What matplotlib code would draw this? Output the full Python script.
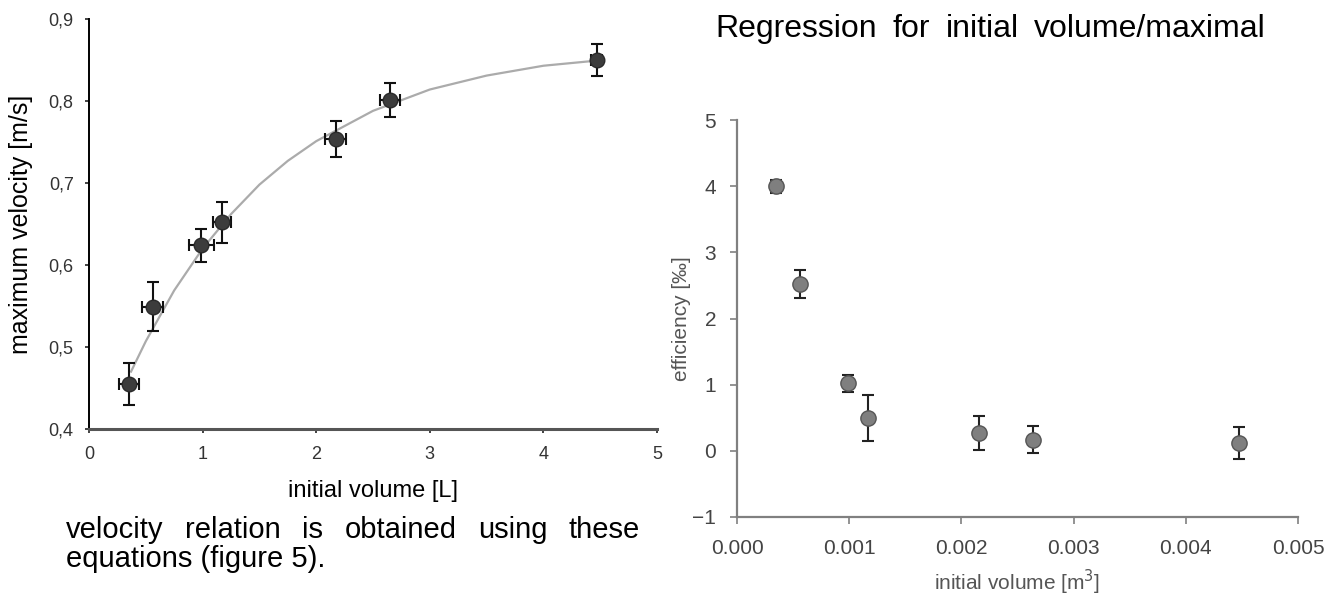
import matplotlib
matplotlib.use("Agg")
import matplotlib.pyplot as plt
from matplotlib.ticker import FuncFormatter

plt.rcParams["font.family"] = ["Liberation Sans", "DejaVu Sans"]

# left chart: maximum velocity vs initial volume [L]
vol_l = [0.35, 0.56, 0.99, 1.17, 2.17, 2.65, 4.47]
vmax = [0.455, 0.549, 0.624, 0.652, 0.754, 0.801, 0.850]
vmax_err = [0.026, 0.030, 0.020, 0.025, 0.022, 0.021, 0.020]
vol_err = [0.09, 0.09, 0.11, 0.08, 0.09, 0.09, 0.05]
# regression curve
fit_x = [0.37, 0.5, 0.75, 1.0, 1.25, 1.5, 1.75, 2.0, 2.5, 3.0, 3.5, 4.0, 4.45]
fit_y = [0.470, 0.507, 0.569, 0.620, 0.662, 0.698, 0.727, 0.751, 0.788, 0.814, 0.831, 0.843, 0.849]

# right chart: efficiency vs initial volume [m3]
vol_m3 = [0.00035, 0.00056, 0.00099, 0.00117, 0.00216, 0.00264, 0.00447]
eff = [4.0, 2.52, 1.02, 0.50, 0.27, 0.17, 0.12]
eff_err = [0.10, 0.21, 0.13, 0.35, 0.26, 0.21, 0.24]

W, H = 1331, 604
fig = plt.figure(figsize=(W / 100, H / 100), dpi=100)


def justified(words, x0, x1, y, size):
    # words spread between x0 and x1 (pixels), baseline y (pixels)
    r = fig.canvas.get_renderer()
    arts = [fig.text(0, 1 - y / H, w, fontsize=size, va="baseline") for w in words]
    widths = [a.get_window_extent(r).width for a in arts]
    gap = (x1 - x0 - sum(widths)) / (len(words) - 1)
    x = x0
    for a, w in zip(arts, widths):
        a.set_x(x / W)
        x += w + gap


# ---- left
ax1 = fig.add_axes([89 / W, 1 - 429 / H, 568 / W, 410 / H])
ax1.plot(fit_x, fit_y, color="#ababab", lw=1.6, zorder=1)
ax1.errorbar(vol_l, vmax, yerr=vmax_err, xerr=vol_err, fmt="o", ms=10.5,
             color="#3c3c3c", mec="#2a2a2a", ecolor="#111111", elinewidth=1.5,
             capsize=4, capthick=1.5, zorder=3)
ax1.set_xlim(0, 5); ax1.set_ylim(0.4, 0.9)
ax1.set_xticks(range(6)); ax1.set_yticks([0.4, 0.5, 0.6, 0.7, 0.8, 0.9])
ax1.yaxis.set_major_formatter(FuncFormatter(lambda v, p: f"{v:.1f}".replace(".", ",")))
for s in ["top", "right"]:
    ax1.spines[s].set_visible(False)
ax1.spines["left"].set_linewidth(1.4)
ax1.spines["bottom"].set_linewidth(2.2)
ax1.spines["bottom"].set_color("#555555")
ax1.tick_params(labelsize=13, length=3, width=1.2, color="#222222", labelcolor="#333333")
ax1.tick_params(axis="x", pad=9)
ax1.tick_params(axis="y", pad=8)
ax1.set_xlabel("initial volume [L]", fontsize=17)
ax1.xaxis.set_label_coords(0.5, -0.124)
ax1.set_ylabel("maximum velocity [m/s]", fontsize=18)
ax1.yaxis.set_label_coords(-0.099, 0.5)

# ---- right
ax2 = fig.add_axes([737 / W, 1 - 517 / H, 561 / W, 397 / H])
ax2.errorbar(vol_m3, eff, yerr=eff_err, fmt="o", ms=11,
             color="#7f7f7f", mec="#555555", ecolor="#222222", elinewidth=1.5,
             capsize=4, capthick=1.5, zorder=3)
ax2.set_xlim(0, 0.005); ax2.set_ylim(-1, 5)
ax2.set_xticks([0.0, 0.001, 0.002, 0.003, 0.004, 0.005])
ax2.xaxis.set_major_formatter(FuncFormatter(lambda v, p: f"{v:.3f}"))
ax2.set_yticks(range(-1, 6))
for s in ["top", "right"]:
    ax2.spines[s].set_visible(False)
for s in ["left", "bottom"]:
    ax2.spines[s].set_color("#808080")
    ax2.spines[s].set_linewidth(1.6)
ax2.tick_params(labelsize=15, length=5, width=1.2, color="#808080", labelcolor="#444444")
ax2.tick_params(axis="x", pad=11)
ax2.tick_params(axis="y", pad=10)
ax2.set_xlabel("initial volume [m$^3$]", fontsize=15, color="#555555", labelpad=7)
ax2.set_ylabel("efficiency [‰]", fontsize=15, color="#555555", labelpad=1)

# surrounding page text
justified(["Regression", "for", "initial", "volume/maximal"], 715, 1266, 37, 23)
justified(["velocity", "relation", "is", "obtained", "using", "these"], 66, 640, 538, 21)
fig.text(66 / W, 1 - 567 / H, "equations (figure 5).", fontsize=21, va="baseline")

plt.savefig("out.png", dpi=100)
plt.close()
